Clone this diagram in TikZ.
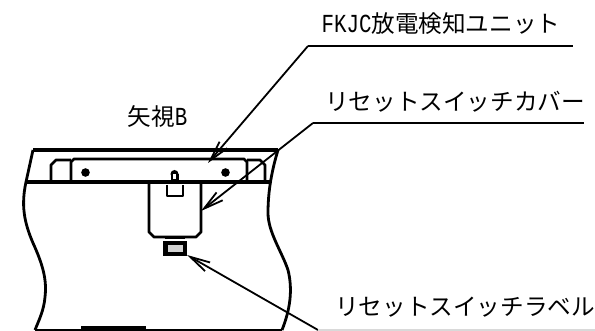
\documentclass[tikz,border=0pt]{standalone}
\usepackage{fontspec}
\setmainfont{Noto Sans CJK JP}
\newfontfamily\halffont[FakeStretch=0.8]{Liberation Mono}
\usetikzlibrary{arrows.meta, positioning}
\tikzset{
    part/.style={line width=2.8pt, line join=round},
    leader/.style={line width=1.8pt},
    tiparrow/.style={leader, {Straight Barb[length=20pt, width=10pt, line width=1.8pt]}-},
    caption/.style={inner sep=0pt, font=\fontsize{23.6}{26}\selectfont}
}
\newcommand{\halfwide}[1]{{\halffont\fontsize{26}{26}\selectfont #1}}

\begin{document}
\begin{tikzpicture}[x=1pt, y=-1pt]
            \useasboundingbox (0,0) rectangle (595,331);

            % labels
            \node[caption, anchor=center] (unitlabel) at (441,24) {\halfwide{FKJC}放電検知ユニット};
            \node[caption, anchor=center] (coverlabel) at (455,102) {リセットスイッチカバー};
            \node[caption, anchor=center] (platelabel) at (465,307.5) {リセットスイッチラベル};
            \node[caption, anchor=center] (viewlabel) at (157.5,116) {矢視\halfwide{B}};

            % housing
            \draw[part, line width=3.6pt] (33,150) -- (278,150);
            \draw[part, line width=3.6pt] (26,182) -- (270,182);
            \draw[part] (33,150) -- (26,182) .. controls (21,205) and (24,222) .. (33,243)
                .. controls (43,265) and (47,280) .. (45,297) .. controls (44,310) and (39,320) .. (35,330);
            \draw[part] (278,150) .. controls (272,170) and (268,190) .. (268,213)
                .. controls (268,232) and (282,252) .. (288,270) .. controls (293,290) and (290,310) .. (282,330);
            \draw[line width=1.8pt] (35,330) -- (282,330);
            \fill (81,326) rectangle (146,331);

            % discharge unit
            \draw[part] (71,182) -- (71,162) -- (74,159) -- (244,159) -- (247,162) -- (247,182);
            \draw[part] (51,182) -- (51,165) -- (56,160) -- (71,160);
            \draw[part] (247,160) -- (260,160) -- (265,165) -- (265,182);
            \fill (85.5,172.5) circle (4.3pt);
            \fill (225.5,172.5) circle (4.3pt);

            % reset switch and cover
            \draw[part] (149,182) -- (149,232) -- (154,237) -- (196,237) -- (201,232) -- (201,182);
            \draw[part, line width=2.2pt] (167,185) -- (167,196) -- (183,196) -- (183,185);
            \fill (170.5,174) rectangle (178.5,184);
            \fill (174.5,174) circle (4pt);
            \fill[white] (173.2,174) rectangle (175.8,179);
            \fill (165,237) rectangle (185,239);

            % reset switch plate
            \fill (163,241.5) rectangle (187,256);
            \fill[gray!35] (167.5,245) rectangle (183,252.5);

            % leaders
            \coordinate (unittip) at (208,163);
            \coordinate (unitknee) at (308,46);
            \coordinate (unitend) at (573,46);
            \coordinate (covertip) at (201,211);
            \coordinate (coverknee) at (313,123);
            \coordinate (coverend) at (584,123);
            \coordinate (platetip) at (187,255);
            \coordinate (plateknee) at (318,330);
            \coordinate (plateend) at (595,330);

            \draw[tiparrow] (unittip) -- (unitknee);
            \draw[leader] (unitknee) -- (unitend);
            \draw[tiparrow] (covertip) -- (coverknee);
            \draw[leader] (coverknee) -- (coverend);
            \draw[tiparrow] (platetip) -- (plateknee);
            \draw[leader, gray!30] (plateknee) -- (plateend);
        \end{tikzpicture}
\end{document}
